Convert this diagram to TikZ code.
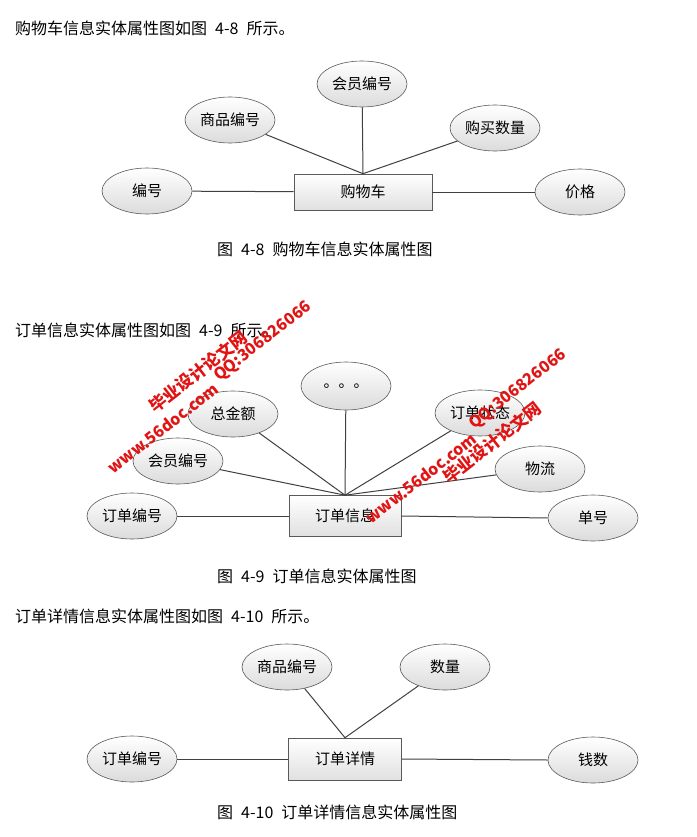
\documentclass[tikz,border=0pt]{standalone}
\usepackage{fontspec}
\setmainfont{Noto Sans CJK SC}
\newfontfamily\cjkfont{Noto Sans CJK SC}
\usetikzlibrary{shapes.geometric}
\definecolor{edgegray}{RGB}{90,90,90}
\definecolor{wmred}{RGB}{225,20,20}
\newcommand{\hsp}{\hspace{8pt}}
\tikzset{
  attr/.style={ellipse, draw=edgegray, line width=0.6pt, top color=white, bottom color=black!14,
    minimum width=90pt, minimum height=46pt, inner sep=0pt, font=\fontsize{15}{15}\selectfont},
  ent/.style={rectangle, draw=edgegray, line width=0.6pt, top color=white, bottom color=black!12,
    inner sep=0pt, font=\fontsize{15}{15}\selectfont},
  conn/.style={draw=black!75, line width=1pt},
  bodytext/.style={anchor=west, inner sep=0pt, font=\fontsize{16}{16}\selectfont},
  wmtext/.style={text=wmred, inner sep=0pt, rotate=38, font=\bfseries\fontsize{16}{16}\selectfont},
}
\begin{document}
\begin{tikzpicture}[x=1pt,y=-1pt]
\useasboundingbox[fill=white] (0,0) rectangle (696,837);

% ---------- text lines ----------
\node[bodytext] (t1) at (15,28) {购物车信息实体属性图如图\hsp 4-8\hsp 所示。};
\node[bodytext] (c1) at (217,249) {图\hsp 4-8\hsp 购物车信息实体属性图};
\node[bodytext] (t2) at (15,330) {订单信息实体属性图如图\hsp 4-9\hsp 所示。};
\node[bodytext] (c2) at (217,576) {图\hsp 4-9\hsp 订单信息实体属性图};
\node[bodytext] (t3) at (15,616) {订单详情信息实体属性图如图\hsp 4-10\hsp 所示。};
\node[bodytext] (c3) at (217,812) {图\hsp 4-10\hsp 订单详情信息实体属性图};

% ---------- diagram 1 ----------
\node[ent, minimum width=138pt, minimum height=36pt] (cart) at (363,192) {购物车};
\node[attr] (a1) at (362,84) {会员编号};
\node[attr] (a2) at (230,120) {商品编号};
\node[attr] (a3) at (495,128) {购买数量};
\node[attr] (a4) at (147,191) {编号};
\node[attr] (a5) at (580,192) {价格};
\draw[conn] (cart.north) -- (a1);
\draw[conn] (cart.north) -- (a2);
\draw[conn] (cart.north) -- (a3);
\draw[conn] (a4) -- (cart);
\draw[conn] (cart) -- (a5);

% ---------- diagram 2 ----------
\node[ent, minimum width=112pt, minimum height=41pt] (ord) at (345,516) {订单信息};
\node[attr, minimum height=48pt] (b1) at (346,386) {。。。};
\node[attr] (b2) at (233,414) {总金额};
\node[attr] (b3) at (480,413) {订单状态};
\node[attr] (b4) at (178,461) {会员编号};
\node[attr] (b5) at (540,469) {物流};
\node[attr] (b6) at (132,516) {订单编号};
\node[attr] (b7) at (593,518) {单号};
\draw[conn] (ord.north) -- (b1);
\draw[conn] (ord.north) -- (b2);
\draw[conn] (ord.north) -- (b3);
\draw[conn] (ord.north) -- (b4);
\draw[conn] (ord.north) -- (b5);
\draw[conn] (b6) -- (ord);
\draw[conn] (ord.east) -- (b7.west);

% ---------- diagram 3 ----------
\node[ent, minimum width=113pt, minimum height=42pt] (det) at (345,759) {订单详情};
\node[attr] (d1) at (287,667) {商品编号};
\node[attr] (d2) at (445,667) {数量};
\node[attr] (d3) at (132,759) {订单编号};
\node[attr] (d4) at (593,760) {钱数};
\draw[conn] (det.north) -- (d1);
\draw[conn] (det.north) -- (d2);
\draw[conn] (d3) -- (det);
\draw[conn] (det.east) -- (d4.west);

% ---------- watermarks ----------
\node[wmtext] (w1) at (163,428) {www.56doc.com};
\node[wmtext, font=\bfseries\fontsize{17}{17}\selectfont] (w2) at (198,372) {毕业设计论文网};
\node[wmtext] (w3) at (263,342) {QQ:306826066};
\node[wmtext] (w4) at (421,478) {www.56doc.com};
\node[wmtext, font=\bfseries\fontsize{17}{17}\selectfont] (w5) at (492,443) {毕业设计论文网};
\node[wmtext] (w6) at (518,390) {QQ:306826066};
\end{tikzpicture}
\end{document}
